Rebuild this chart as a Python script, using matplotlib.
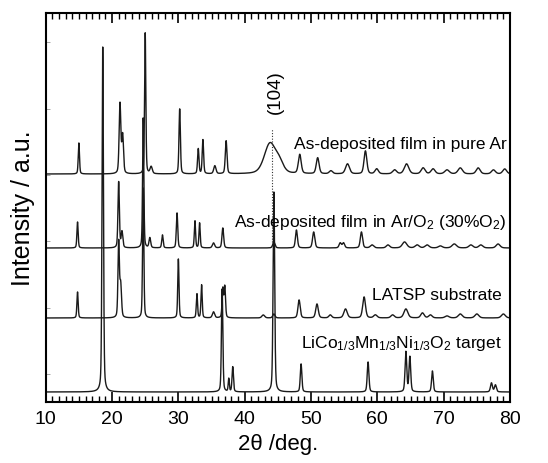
import numpy as np
import matplotlib
matplotlib.use('Agg')
import matplotlib.pyplot as plt
from matplotlib.ticker import MultipleLocator

plt.rcParams['font.family'] = ['Liberation Sans', 'DejaVu Sans']
plt.rcParams['mathtext.fontset'] = 'custom'
plt.rcParams['mathtext.rm'] = 'Liberation Sans'
plt.rcParams['mathtext.it'] = 'Liberation Sans:italic'

# peak lists: position (2theta), height, FWHM
ar_pos = [15.0, 21.2, 21.6, 25.0, 25.9, 30.2, 33.0, 33.7, 35.5, 37.2, 43.8, 45.2,
          48.3, 51.0, 53.0, 55.5, 58.2, 59.9, 62.6, 64.4, 66.9, 68.4, 70.5, 72.5,
          75.2, 77.5, 79.2]
ar_h = [31, 70, 38, 141, 7, 65, 25, 34, 8, 33, 30, 10, 19, 16, 3, 10, 23, 5, 4, 10,
        6, 5, 4, 6, 6, 4, 5]
ar_w = [0.22, 0.3, 0.3, 0.22, 0.4, 0.25, 0.25, 0.25, 0.4, 0.3, 2.0, 1.5, 0.5, 0.5,
        0.6, 0.7, 0.5, 0.6, 0.7, 0.8, 0.7, 0.7, 0.8, 0.8, 0.7, 0.7, 0.7]

o2_pos = [14.8, 21.0, 21.5, 24.7, 25.7, 27.6, 29.8, 32.5, 33.2, 35.3, 36.7, 44.4,
          47.8, 50.4, 54.4, 54.9, 57.6, 59.2, 61.6, 64.1, 66.0, 67.5, 69.5, 71.6,
          74.1, 75.6, 78.2]
o2_h = [26, 66, 16, 130, 10, 13, 35, 27, 25, 5, 20, 6, 18, 16, 5, 5, 16, 3, 3, 6,
        3, 3, 2, 4, 3, 3, 4]
o2_w = [0.22, 0.25, 0.3, 0.22, 0.3, 0.25, 0.25, 0.22, 0.22, 0.4, 0.3, 0.4, 0.35,
        0.4, 0.4, 0.4, 0.4, 0.6, 0.6, 0.8, 0.7, 0.7, 0.7, 0.8, 0.7, 0.7, 0.7]

latsp_pos = [14.8, 21.0, 21.3, 24.7, 30.0, 32.8, 33.5, 35.3, 36.7, 37.0, 42.8, 44.4,
             48.2, 50.9, 52.9, 55.2, 58.0, 59.7, 62.3, 64.3, 66.8, 68.0, 70.5, 72.5,
             75.0, 79.0]
latsp_h = [26, 75, 33, 130, 59, 24, 33, 6, 29, 31, 3, 4, 18, 14, 3, 9, 21, 3, 3, 9,
           5, 3, 2, 4, 4, 4]
latsp_w = [0.22, 0.25, 0.3, 0.22, 0.22, 0.22, 0.22, 0.4, 0.25, 0.25, 0.5, 0.4, 0.4,
           0.45, 0.5, 0.6, 0.5, 0.6, 0.6, 0.7, 0.6, 0.6, 0.7, 0.7, 0.7, 0.7]

tgt_pos = [18.6, 36.6, 37.6, 38.2, 44.4, 48.5, 58.6, 64.3, 64.9, 68.3, 77.2, 77.8]
tgt_h = [345, 103, 13, 25, 200, 28, 30, 40, 35, 21, 9, 7]
tgt_w = [0.25, 0.25, 0.2, 0.25, 0.28, 0.28, 0.3, 0.3, 0.3, 0.3, 0.35, 0.35]

labels = ['As-deposited film in pure Ar',
          'As-deposited film in Ar/O$_2$ (30%O$_2$)',
          'LATSP substrate',
          'LiCo$_{1/3}$Mn$_{1/3}$Ni$_{1/3}$O$_2$ target']

# vertical stacking offsets
offsets = [228, 154, 84, 10]


def pattern(x, pos, h, w):
    y = np.zeros_like(x)
    for p, a, f in zip(pos, h, w):
        s = f / 2.0
        lor = 1.0 / (1.0 + ((x - p) / s) ** 2)
        gau = np.exp(-np.log(2) * ((x - p) / s) ** 2)
        y += a * (0.35 * lor + 0.65 * gau)
    return y


x = np.linspace(10, 80, 7001)
sets = [(ar_pos, ar_h, ar_w), (o2_pos, o2_h, o2_w),
        (latsp_pos, latsp_h, latsp_w), (tgt_pos, tgt_h, tgt_w)]

fig = plt.figure(figsize=(5.48, 4.64), dpi=100)
ax = fig.add_axes([0.0834, 0.1315, 0.8473, 0.8383])

for (pos, h, w), off in zip(sets, offsets):
    ax.plot(x, off + pattern(x, pos, h, w), color='#1a1a1a', lw=1.0)

# (104) marker
ax.plot([44.05, 44.05], [160, 273], ls=(0, (1, 1.5)), color='#333333', lw=0.8)
ax.text(44.7, 311, '(104)', rotation=90, ha='center', va='center', fontsize=13.5)

label_x = [79.5, 79.5, 78.8, 78.7]
label_y = [254, 176, 103, 55]
for t, lx, ly in zip(labels, label_x, label_y):
    ax.text(lx, ly, t, ha='right', va='baseline', fontsize=12.5)

ax.set_xlim(10, 80)
ax.set_ylim(0, 389)
ax.xaxis.set_major_locator(MultipleLocator(10))
ax.xaxis.set_minor_locator(MultipleLocator(1))
ax.set_yticks(np.arange(27.5, 389, 66.5))
ax.tick_params(axis='x', which='major', direction='in', top=True, length=7,
               width=1.2, labelsize=14, pad=6)
ax.tick_params(axis='x', which='minor', direction='in', top=True, length=4, width=1)
ax.tick_params(axis='y', direction='in', length=3, width=0.6, color='#999999',
               labelleft=False)
for sp in ax.spines.values():
    sp.set_linewidth(1.5)

ax.set_xlabel('2θ /deg.', fontsize=16, labelpad=4)
ax.set_ylabel('Intensity / a.u.', fontsize=18, labelpad=8)

fig.savefig('out.png', dpi=100)
